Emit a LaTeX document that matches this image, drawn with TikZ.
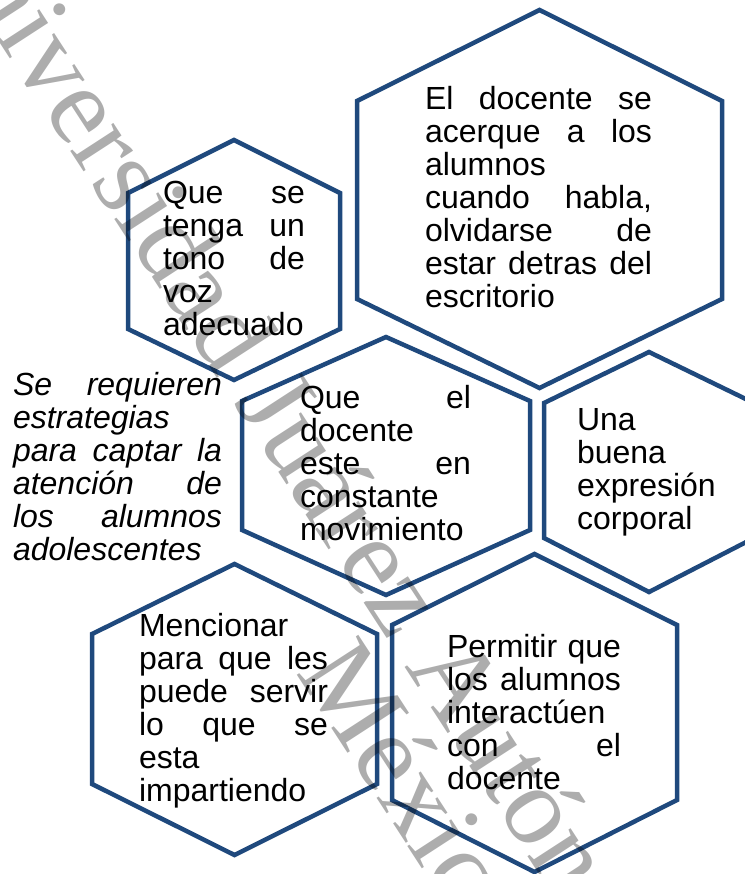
\documentclass[tikz,border=0pt]{standalone}
\usepackage{fontspec}
\setmainfont{Liberation Sans}
\newfontfamily\wmfont{Liberation Serif}
\definecolor{hexblue}{HTML}{1F497D}
\newcommand\jl[1]{\makebox[\linewidth][s]{#1}}
\newcommand\bodyfont{\fontsize{32}{33}\selectfont}
\begin{document}
\begin{tikzpicture}[x=1pt,y=-1pt,
  hexline/.style={draw=hexblue,line width=4.5pt,line join=miter},
  txt/.style={anchor=base west,inner sep=0pt,outer sep=0pt},
  wm/.style={anchor=base west,inner sep=0pt,rotate=-57,text=black,text opacity=0.32,
    font=\wmfont\fontsize{112}{112}\selectfont}]
\useasboundingbox (0,0) rectangle (744,874);
% hexagons
\draw[hexline] (234,140) -- (340,193) -- (340,329) -- (234,380) -- (128,329) -- (128,193) -- cycle;
\draw[hexline] (539.5,10) -- (722,101) -- (722,299) -- (539.5,388) -- (357,299) -- (357,101) -- cycle;
\draw[hexline] (386,337) -- (530,401) -- (530,530) -- (386,595) -- (242,530) -- (242,401) -- cycle;
\draw[hexline] (649,352) -- (754,403) -- (754,538) -- (649,592) -- (544,538) -- (544,403) -- cycle;
\draw[hexline] (234.5,564) -- (377,634) -- (377,784) -- (234.5,855) -- (92,784) -- (92,634) -- cycle;
\draw[hexline] (534.5,554) -- (677,625) -- (677,800) -- (534.5,872) -- (392,800) -- (392,625) -- cycle;
% texts
\node[txt] (t1) at (163,204) {\parbox[t]{142pt}{\bodyfont
  \jl{Que se}\\ \jl{tenga un}\\ \jl{tono de}\\ voz\\ adecuado}};
\node[txt] (t2) at (425,110) {\parbox[t]{227pt}{\bodyfont
  \jl{El docente se}\\ \jl{acerque a los}\\ alumnos\\ \jl{cuando habla,}\\ \jl{olvidarse de}\\ \jl{estar detras del}\\ escritorio}};
\node[txt] (t3) at (13,395) {\parbox[t]{209pt}{\bodyfont\itshape
  \jl{Se requieren}\\ estrategias\\ \jl{para captar la}\\ \jl{atención de}\\ \jl{los alumnos}\\ adolescentes}};
\node[txt] (t4) at (300,408) {\parbox[t]{171pt}{\bodyfont
  \jl{Que el}\\ docente\\ \jl{este en}\\ constante\\ movimiento}};
\node[txt] (t5) at (577,430) {\parbox[t]{150pt}{\bodyfont
  Una\\ buena\\ expresión\\ corporal}};
\node[txt] (t6) at (139,636) {\parbox[t]{189pt}{\bodyfont
  Mencionar\\ \jl{para que les}\\ \jl{puede servir}\\ \jl{lo que se}\\ esta\\ impartiendo}};
\node[txt] (t7) at (447,657) {\parbox[t]{174pt}{\bodyfont
  \jl{Permitir que}\\ \jl{los alumnos}\\ interactúen\\ \jl{con el}\\ docente}};
% watermark
\node[wm] (wm1) at (-80,-80) {Universidad Juárez Autónoma de Tabasco};
\node[wm] (wm2) at (295,672) {México};
\end{tikzpicture}
\end{document}
